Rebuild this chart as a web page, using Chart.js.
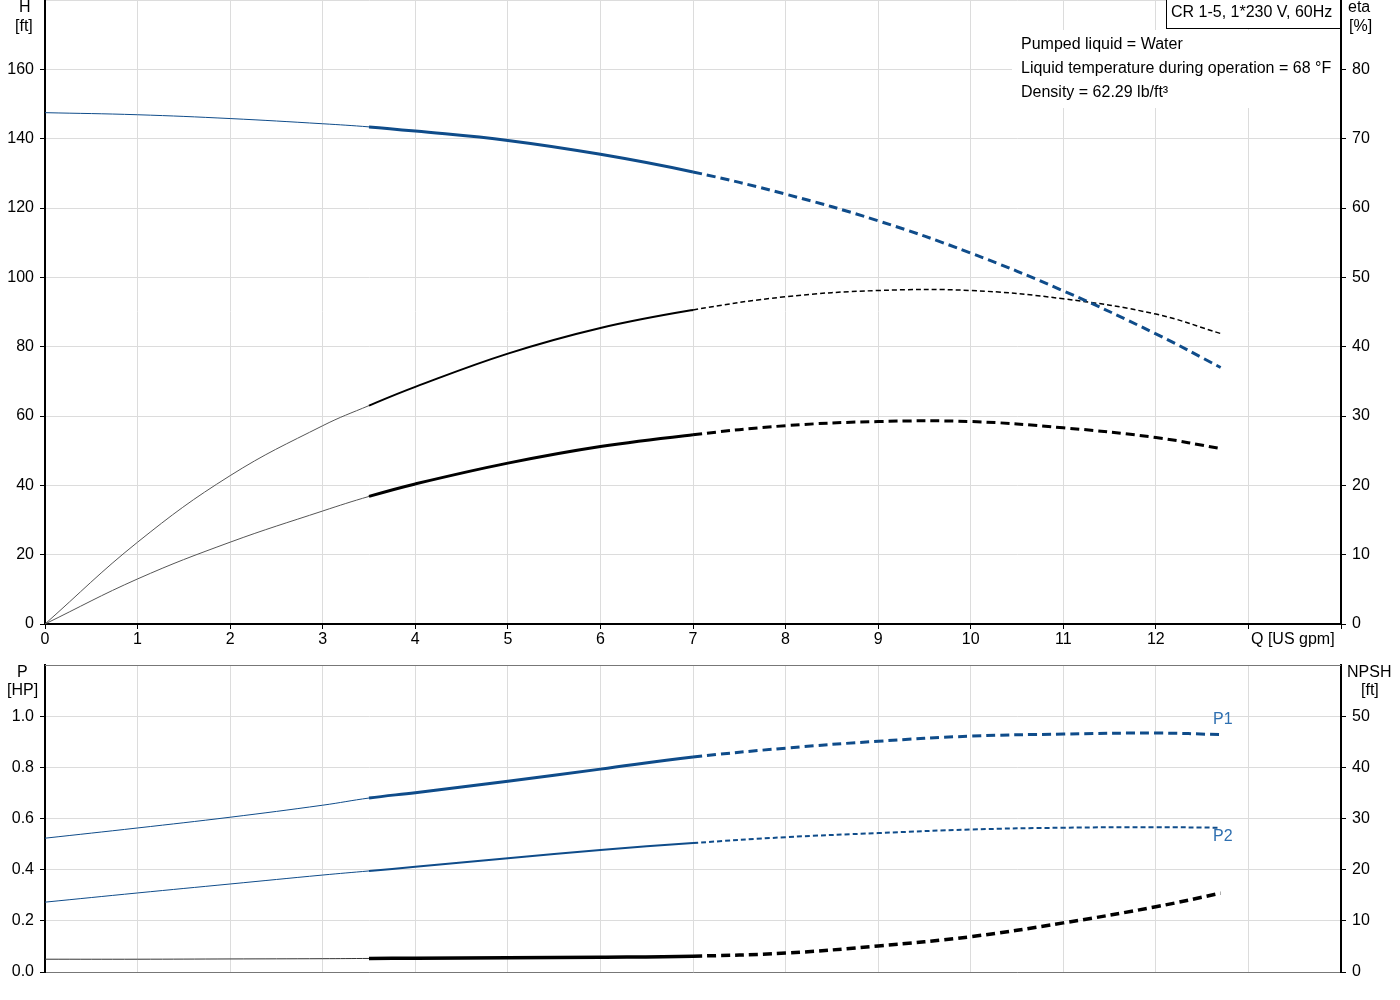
<!DOCTYPE html>
<html>
<head>
<meta charset="utf-8">
<script src="https://cdn.jsdelivr.net/npm/chart.js@4.4.1/dist/chart.umd.min.js"></script>
<style>
  html, body { margin: 0; padding: 0; background: #fff; }
  body { width: 1400px; height: 1000px; position: relative; overflow: hidden;
         font-family: "Liberation Sans", Arial, sans-serif; font-size: 16px; color: #000; }
  .abs { position: absolute; white-space: nowrap; line-height: 18px; }
  #top { position: absolute; left: 0; top: 0; }
  #bot { position: absolute; left: 0; top: 660px; }
</style>
</head>
<body>
<canvas id="top" width="1400" height="660"></canvas>
<canvas id="bot" width="1400" height="340"></canvas>

<div class="abs" style="left:19px; top:-2px;">H</div>
<div class="abs" style="left:15px; top:17px;">[ft]</div>
<div class="abs" style="left:1348px; top:-2px;">eta</div>
<div class="abs" style="left:1349px; top:17px;">[%]</div>
<div class="abs" style="left:1251px; top:630px;">Q [US gpm]</div>
<div class="abs" style="left:17px; top:663px;">P</div>
<div class="abs" style="left:7px; top:681px;">[HP]</div>
<div class="abs" style="left:1347px; top:663px;">NPSH</div>
<div class="abs" style="left:1361px; top:681px;">[ft]</div>

<div class="abs" style="left:1012px; top:30px; width:328px; height:78px; background:#fff;"></div>
<div class="abs" style="left:1166px; top:-1px; width:175px; height:30px; background:#fff; border:1px solid #000; border-top:none; box-sizing:border-box;"></div>
<div class="abs" style="left:1171px; top:3px;">CR 1-5, 1*230 V, 60Hz</div>
<div class="abs" style="left:1021px; top:35px;">Pumped liquid = Water</div>
<div class="abs" style="left:1021px; top:59px;">Liquid temperature during operation = 68 °F</div>
<div class="abs" style="left:1021px; top:83px;">Density = 62.29 lb/ft³</div>
<div class="abs" style="left:1213px; top:710px; color:#2e6fb0;">P1</div>
<div class="abs" style="left:1213px; top:827px; color:#2e6fb0;">P2</div>

<script>
// ---- data ----
const flowQ = [0, 1, 2, 3, 3.5, 4, 5, 6, 7, 8, 9, 10, 11, 12, 12.7];
const headH = [147.5, 146.9, 145.8, 144.3, 143.4, 142.2, 139.5, 135.5, 130.4, 124.0, 116.3, 107.0, 96.1, 83.7, 74.0];
const etaPump = [0, 11.8, 21.4, 28.6, 31.5, 34.2, 39.0, 42.7, 45.3, 47.2, 48.1, 48.1, 46.9, 44.7, 41.9];
const etaTotal = [0, 6.5, 11.8, 16.3, 18.4, 20.2, 23.2, 25.6, 27.3, 28.6, 29.2, 29.2, 28.3, 26.9, 25.3];
const powerP1 = [0.523, 0.563, 0.605, 0.652, 0.680, 0.701, 0.746, 0.793, 0.840, 0.875, 0.902, 0.922, 0.930, 0.934, 0.928];
const powerP2 = [0.273, 0.309, 0.344, 0.379, 0.395, 0.411, 0.445, 0.477, 0.504, 0.527, 0.543, 0.557, 0.564, 0.566, 0.564];
const npsh = [2.5, 2.5, 2.55, 2.6, 2.65, 2.7, 2.8, 2.9, 3.1, 3.7, 5.1, 6.9, 9.6, 12.75, 15.4];
const qTicks = [0, 1, 2, 3, 4, 5, 6, 7, 8, 9, 10, 11, 12];

const BLUE = '#0f4c8a';
const GRID = '#dcdcdc';
const FONT = { family: '"Liberation Sans", Arial, sans-serif', size: 16 };

function pts(ys) { return flowQ.map((q, i) => ({ x: q, y: ys[i] })); }

function styled(label, ys, axis, color, thinColor, wThin, wThick, wDash, dash) {
  return {
    label, data: pts(ys), yAxisID: axis,
    borderColor: color, borderWidth: wThick, borderDash: [],
    pointRadius: 0, fill: false, tension: 0.4,
    borderCapStyle: 'butt',
    segment: {
      borderWidth: c => c.p0.parsed.x < 3.49 ? wThin : (c.p0.parsed.x < 6.99 ? wThick : wDash),
      borderDash: c => c.p0.parsed.x < 6.99 ? [] : dash,
      borderColor: c => c.p0.parsed.x < 3.49 ? thinColor : color
    }
  };
}

function zeroPad(s) { s.paddingTop = 0; s.paddingBottom = 0; s.paddingLeft = 0; s.paddingRight = 0; }

const topFrame = {
  id: 'topFrame',
  afterDraw(chart, args, opts) {
    if (!opts.draw) return;
    const a = chart.chartArea, ctx = chart.ctx;
    ctx.save(); ctx.strokeStyle = '#777'; ctx.lineWidth = 1;
    ctx.beginPath(); ctx.moveTo(a.left, a.top + 0.5); ctx.lineTo(a.right, a.top + 0.5); ctx.stroke();
    ctx.restore();
  }
};

function tickCol(maxV) { return c => (c.tick && c.tick.value >= maxV - 1e-6 ? 'rgba(0,0,0,0)' : '#000'); }

// ---- top chart ----
new Chart(document.getElementById('top'), {
  type: 'line',
  data: {
    datasets: [
      styled('H', headH, 'yH', BLUE, BLUE, 1, 3, 3, [9, 5]),
      styled('eta pump', etaPump, 'yEta', '#000', '#555', 1, 2, 1.5, [5, 3]),
      styled('eta total', etaTotal, 'yEta', '#000', '#555', 1, 3, 3, [9, 5])
    ]
  },
  options: {
    responsive: false, animation: false, devicePixelRatio: 1,
    layout: { padding: { top: 0, left: 0, right: 0, bottom: 0 } },
    plugins: { legend: { display: false }, tooltip: { enabled: false }, topFrame: { draw: false } },
    scales: {
      x: {
        type: 'linear', min: 0, max: 14,
        afterBuildTicks: s => { s.ticks = [...qTicks, 13, 14].map(v => ({ value: v })); },
        ticks: { font: FONT, color: '#000', maxRotation: 0, autoSkip: false, padding: 1,
                 callback: v => (v <= 12 ? String(v) : '') },
        grid: { color: GRID, tickColor: '#000', tickLength: 5 },
        border: { color: '#000', width: 2 },
        afterFit: s => { s.height = 36; zeroPad(s); }
      },
      yH: {
        position: 'left', min: 0, max: 180,
        ticks: { stepSize: 20, font: FONT, color: '#000', padding: 6,
                 callback: v => (v >= 180 ? '' : String(v)) },
        grid: { color: GRID, tickColor: tickCol(180), tickLength: 5 },
        border: { color: '#000', width: 2 },
        afterFit: s => { s.width = 45; zeroPad(s); }
      },
      yEta: {
        position: 'right', min: 0, max: 90,
        ticks: { stepSize: 10, font: FONT, color: '#000', padding: 6,
                 callback: v => (v >= 90 ? '' : String(v)) },
        grid: { drawOnChartArea: false, tickColor: tickCol(90), tickLength: 5 },
        border: { color: '#000', width: 2 },
        afterFit: s => { s.width = 59; zeroPad(s); }
      }
    }
  },
  plugins: [topFrame]
});

// ---- bottom chart ----
new Chart(document.getElementById('bot'), {
  type: 'line',
  data: {
    datasets: [
      styled('P1', powerP1, 'yP', BLUE, BLUE, 1, 3, 3, [9, 5]),
      styled('P2', powerP2, 'yP', BLUE, BLUE, 1, 2, 2, [5, 3]),
      styled('NPSH', npsh, 'yN', '#000', '#333', 1, 3.5, 3.5, [9, 5])
    ]
  },
  options: {
    responsive: false, animation: false, devicePixelRatio: 1,
    layout: { padding: { top: 5, left: 0, right: 0, bottom: 0 } },
    plugins: { legend: { display: false }, tooltip: { enabled: false }, topFrame: { draw: true } },
    scales: {
      x: {
        type: 'linear', min: 0, max: 14,
        afterBuildTicks: s => { s.ticks = [...qTicks, 13, 14].map(v => ({ value: v })); },
        ticks: { display: false },
        grid: { color: GRID, drawTicks: false },
        border: { color: '#777', width: 1 },
        afterFit: s => { s.height = 28; zeroPad(s); }
      },
      yP: {
        position: 'left', min: 0, max: 1.2,
        ticks: { stepSize: 0.2, font: FONT, color: '#000', padding: 6,
                 callback: v => (v > 1.05 ? '' : v.toFixed(1)) },
        grid: { color: GRID, tickColor: tickCol(1.2), tickLength: 5 },
        border: { color: '#000', width: 2 },
        afterFit: s => { s.width = 45; zeroPad(s); }
      },
      yN: {
        position: 'right', min: 0, max: 60,
        ticks: { stepSize: 10, font: FONT, color: '#000', padding: 6,
                 callback: v => (v >= 60 ? '' : String(v)) },
        grid: { drawOnChartArea: false, tickColor: tickCol(60), tickLength: 5 },
        border: { color: '#000', width: 2 },
        afterFit: s => { s.width = 59; zeroPad(s); }
      }
    }
  },
  plugins: [topFrame]
});
</script>
</body>
</html>
